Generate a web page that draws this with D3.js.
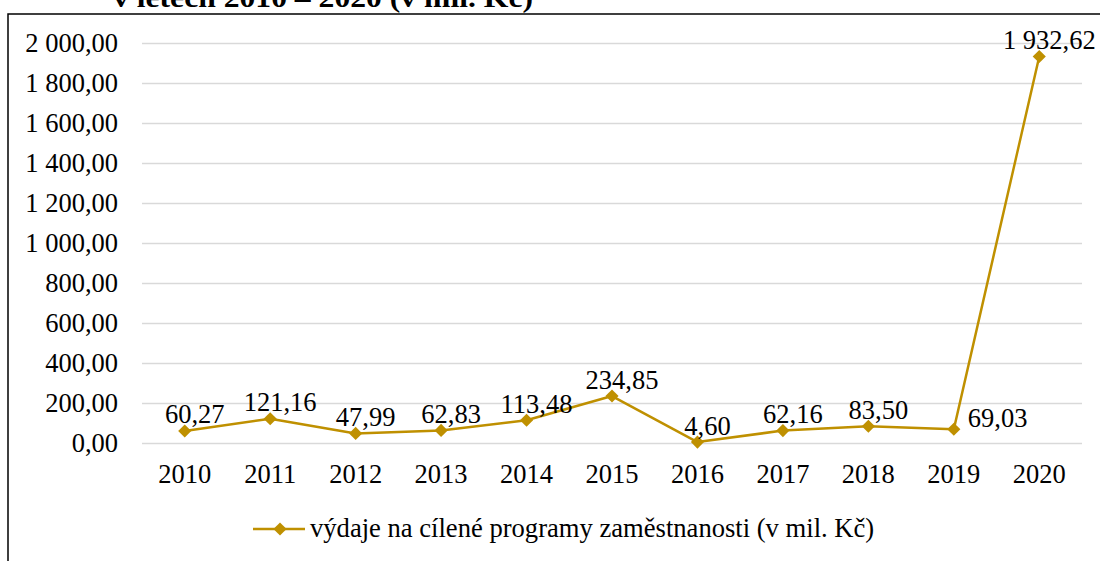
<!DOCTYPE html>
<html>
<head>
<meta charset="utf-8">
<script src="https://cdn.jsdelivr.net/npm/d3@7"></script>
</head>
<body style="margin:0;background:#fff">
<svg id="chart" width="1100" height="561" style="display:block"></svg>
<script>
const years = ["2010","2011","2012","2013","2014","2015","2016","2017","2018","2019","2020"];
const values = [60.27, 121.16, 47.99, 62.83, 113.48, 234.85, 4.60, 62.16, 83.50, 69.03, 1932.62];
const yTicks = [0, 200, 400, 600, 800, 1000, 1200, 1400, 1600, 1800, 2000];
const labelPlacement = ["top","top","top","top","top","top","top","top","top","right","top"];
const seriesName = "výdaje na cílené programy zaměstnanosti (v mil. Kč)";
const titleLine = "v letech 2010 – 2020 (v mil. Kč)";

const color = "#BF9000";
const gridColor = "#D9D9D9";
const FS = "26.5px";
const FONT = "'Liberation Serif', 'Times New Roman', serif";

const locale = d3.formatLocale({decimal: ",", thousands: "\u00a0", grouping: [3], currency: ["", " Kč"]});
const fmt = locale.format(",.2f");

const svg = d3.select("#chart");
const styleText = sel => sel.style("font-family", FONT).style("font-size", FS).style("fill", "#000");

// partial title (cut at top, as in the source)
svg.append("text")
  .attr("x", 113).attr("y", 7)
  .style("font-family", FONT)
  .style("font-size", "28px")
  .style("font-weight", "bold")
  .attr("textLength", 420)
  .attr("lengthAdjust", "spacingAndGlyphs")
  .text(titleLine);

// border box
svg.append("rect")
  .attr("x", 8).attr("y", 14)
  .attr("width", 1200).attr("height", 700)
  .attr("fill", "none").attr("stroke", "#000").attr("stroke-width", 1.5);

const x = d3.scaleBand().domain(years).range([142, 1082]).padding(0);
const y = d3.scaleLinear().domain([0, 2000]).range([443, 43]);

// gridlines
svg.append("g")
  .attr("transform", "translate(142,0)")
  .call(d3.axisLeft(y).tickValues(yTicks).tickSize(-940).tickFormat(""))
  .call(g => g.select(".domain").remove())
  .call(g => g.selectAll("line").attr("stroke", gridColor).attr("stroke-width", 1.5));

// y axis labels
svg.append("g")
  .attr("transform", "translate(142,0)")
  .call(d3.axisLeft(y).tickValues(yTicks).tickSize(0).tickPadding(24).tickFormat(fmt))
  .call(g => g.select(".domain").remove())
  .call(g => g.selectAll("text").call(styleText));

// x axis labels
svg.append("g")
  .attr("transform", "translate(0,443)")
  .call(d3.axisBottom(x).tickSize(0).tickPadding(21.5))
  .call(g => g.select(".domain").remove())
  .call(g => g.selectAll("text").call(styleText));

const cx = d => x(d) + x.bandwidth() / 2;
const pts = years.map((yr, i) => ({yr, v: values[i], p: labelPlacement[i]}));

// line
svg.append("path")
  .datum(pts)
  .attr("fill", "none")
  .attr("stroke", color)
  .attr("stroke-width", 2.5)
  .attr("stroke-linejoin", "round")
  .attr("d", d3.line().x(d => cx(d.yr)).y(d => y(d.v)));

// markers
const diamond = d3.symbol().type(d3.symbolDiamond2).size(110);
svg.append("g").selectAll("path")
  .data(pts).join("path")
  .attr("transform", d => `translate(${cx(d.yr)},${y(d.v)})`)
  .attr("d", diamond)
  .attr("fill", color);

// data labels
svg.append("g").selectAll("text")
  .data(pts).join("text")
  .call(styleText)
  .attr("x", d => d.p === "right" ? cx(d.yr) + 14 : cx(d.yr) + 10)
  .attr("y", d => d.p === "right" ? y(d.v) - 2 : y(d.v) - 7.5)
  .attr("text-anchor", d => d.p === "right" ? "start" : "middle")
  .text(d => fmt(d.v));

// legend
const lg = svg.append("g");
lg.append("line")
  .attr("x1", 253).attr("x2", 305).attr("y1", 529).attr("y2", 529)
  .attr("stroke", color).attr("stroke-width", 2.5);
lg.append("path")
  .attr("transform", "translate(280,529)")
  .attr("d", diamond)
  .attr("fill", color);
lg.append("text")
  .call(styleText)
  .style("font-size", "26.6px")
  .attr("x", 310).attr("y", 537)
  .text(seriesName);
</script>
</body>
</html>
